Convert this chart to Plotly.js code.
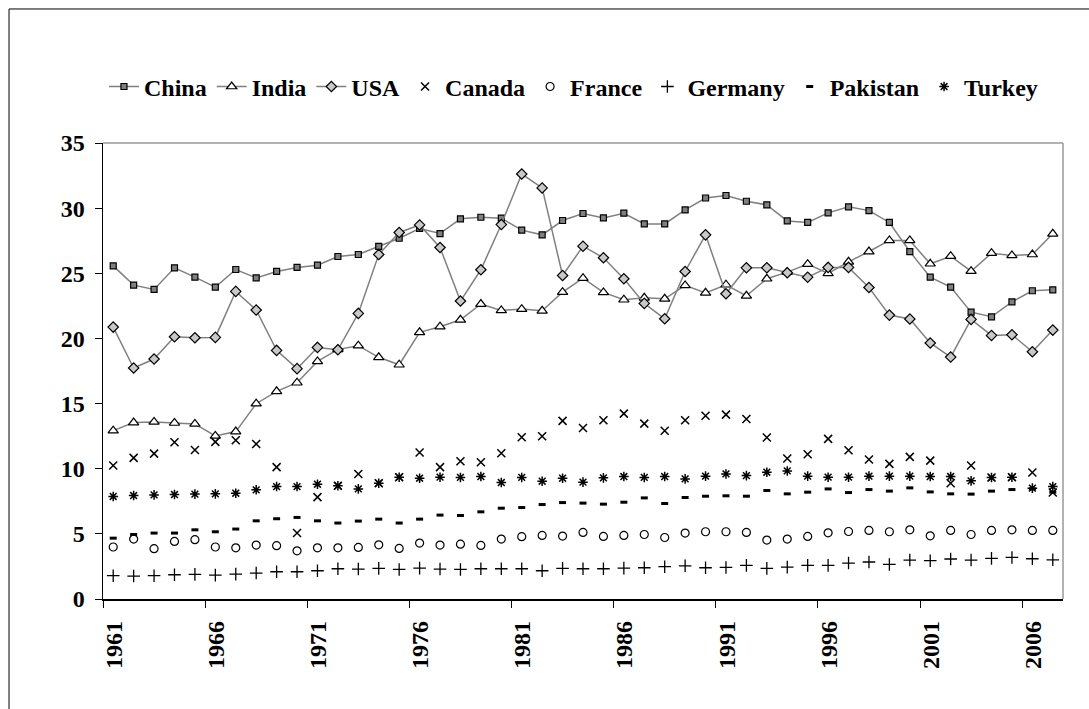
<!DOCTYPE html>
<html>
<head>
<meta charset="utf-8">
<script src="https://cdn.plot.ly/plotly-3.0.1.min.js"></script>
<style>html,body{margin:0;padding:0;background:#fff;}#chart{width:1089px;height:709px;}</style>
</head>
<body>
<div id="chart"></div>
<script>
const years = [1961,1962,1963,1964,1965,1966,1967,1968,1969,1970,1971,1972,1973,1974,1975,1976,1977,1978,1979,1980,1981,1982,1983,1984,1985,1986,1987,1988,1989,1990,1991,1992,1993,1994,1995,1996,1997,1998,1999,2000,2001,2002,2003,2004,2005,2006,2007];
const tickYears = ['1961','1966','1971','1976','1981','1986','1991','1996','2001','2006'];

const china = [25.57,24.09,23.76,25.42,24.70,23.94,25.29,24.65,25.14,25.45,25.62,26.29,26.44,27.06,27.69,28.44,28.05,29.18,29.30,29.23,28.31,27.95,29.05,29.59,29.25,29.61,28.79,28.79,29.86,30.78,30.97,30.53,30.25,29.02,28.90,29.64,30.10,29.81,28.90,26.67,24.70,23.94,22.02,21.66,22.81,23.66,23.73];
const india = [12.92,13.54,13.59,13.51,13.44,12.52,12.85,14.99,15.94,16.60,18.24,19.16,19.44,18.55,17.98,20.47,20.90,21.43,22.64,22.15,22.25,22.12,23.55,24.63,23.53,22.97,23.12,23.04,24.07,23.50,24.12,23.27,24.58,25.09,25.70,24.99,25.88,26.67,27.52,27.52,25.73,26.31,25.16,26.54,26.37,26.44,28.03];
const usa = [20.87,17.73,18.42,20.13,20.05,20.08,23.61,22.18,19.08,17.68,19.31,19.13,21.92,26.44,28.13,28.71,26.98,22.87,25.27,28.74,32.62,31.55,24.83,27.08,26.19,24.58,22.69,21.51,25.14,27.95,23.43,25.42,25.42,25.04,24.70,25.45,25.45,23.91,21.79,21.49,19.65,18.57,21.46,20.23,20.28,18.98,20.64];
const canada = [10.24,10.83,11.16,12.03,11.44,12.06,12.19,11.90,10.12,5.06,7.82,8.69,9.60,8.89,9.35,11.24,10.12,10.58,10.50,11.19,12.42,12.49,13.67,13.13,13.72,14.23,13.46,12.92,13.72,14.07,14.15,13.82,12.39,10.78,11.11,12.29,11.42,10.70,10.37,10.91,10.62,8.89,10.24,9.32,9.35,9.71,8.17];
const france = [3.99,4.60,3.86,4.42,4.55,3.99,3.93,4.14,4.09,3.70,3.93,3.93,3.96,4.16,3.88,4.29,4.14,4.21,4.11,4.60,4.78,4.88,4.83,5.11,4.80,4.88,4.95,4.72,5.06,5.16,5.16,5.11,4.52,4.60,4.80,5.08,5.18,5.26,5.16,5.31,4.85,5.26,4.95,5.26,5.31,5.26,5.26];
const germany = [1.79,1.76,1.79,1.86,1.89,1.83,1.91,1.99,2.09,2.09,2.17,2.32,2.30,2.35,2.27,2.37,2.30,2.27,2.32,2.32,2.32,2.17,2.35,2.32,2.32,2.37,2.40,2.48,2.55,2.40,2.42,2.58,2.35,2.45,2.58,2.58,2.76,2.84,2.65,2.99,2.94,3.07,2.99,3.12,3.19,3.09,3.01];
const pakistan = [4.67,4.95,5.06,5.06,5.31,5.16,5.37,6.00,6.16,6.26,6.00,5.83,5.98,6.13,5.83,6.13,6.44,6.41,6.69,6.97,7.02,7.25,7.40,7.36,7.28,7.43,7.76,7.33,7.79,7.89,7.92,7.89,8.33,8.07,8.20,8.45,8.17,8.40,8.28,8.53,8.22,8.07,8.05,8.28,8.40,8.45,8.20];
const turkey = [7.87,7.94,7.99,8.02,8.05,8.07,8.12,8.38,8.63,8.63,8.81,8.69,8.45,8.89,9.35,9.27,9.35,9.33,9.40,8.94,9.33,9.04,9.27,8.97,9.30,9.40,9.33,9.40,9.22,9.43,9.60,9.47,9.73,9.83,9.43,9.35,9.35,9.43,9.43,9.43,9.40,9.40,9.07,9.32,9.35,8.51,8.63];

const FONT = 'Liberation Serif';
const FS = 24;
const lineCol = '#808080';

function lineTrace(name, y, symbol, size, fill) {
  return {x: years, y: y, name: name, type: 'scatter', mode: 'lines+markers',
    line: {color: lineCol, width: 1.5},
    marker: {symbol: symbol, size: size, color: fill, line: {color: '#000', width: 1.2}}};
}
function markTrace(name, y, symbol, size, width) {
  return {x: years, y: y, name: name, type: 'scatter', mode: 'markers',
    marker: {symbol: symbol, size: size, color: '#000', line: {color: '#000', width: width}}};
}

const traces = [
  lineTrace('China', china, 'square', 6, '#808080'),
  lineTrace('India', india, 'triangle-up', 9, '#ffffff'),
  lineTrace('USA', usa, 'diamond', 8, '#c8c8c8'),
  markTrace('Canada', canada, 'x-thin-open', 8, 1.5),
  markTrace('France', france, 'circle-open', 8, 1.2),
  markTrace('Germany', germany, 'cross-thin-open', 9, 1.3),
  markTrace('Pakistan', pakistan, 'line-ew-open', 5, 3),
  markTrace('Turkey', turkey, 'asterisk-open', 8, 1.5)
];

const tickPos = tickYears.map(t => Number(t) - 0.5);

const layout = {
  width: 1089, height: 709,
  margin: {l: 103, r: 26, t: 143, b: 110},
  paper_bgcolor: '#fff', plot_bgcolor: '#fff',
  font: {family: FONT, size: FS, color: '#000', weight: 'bold'},
  showlegend: true,
  legend: {orientation: 'h', x: 0.001, xanchor: 'left', y: 1.123, yanchor: 'middle',
    font: {family: FONT, size: FS, color: '#000', weight: 'bold'}, itemwidth: 30,
    traceorder: 'normal', tracegroupgap: 0},
  xaxis: {range: [1960.5, 2007.5], tickmode: 'array', tickvals: tickPos, ticktext: tickYears,
    tickangle: -90, ticks: 'outside', ticklen: 7, tickcolor: '#000', tickwidth: 1,
    ticklabelshift: 11, ticklabelstandoff: 4, showline: true, linecolor: '#000', linewidth: 1.5,
    showgrid: false, zeroline: false,
    tickfont: {family: FONT, size: FS, color: '#000', weight: 'bold'}},
  yaxis: {range: [0, 35], tickmode: 'array', tickvals: [0,5,10,15,20,25,30,35],
    ticks: 'outside', ticklen: 7, tickcolor: '#000', tickwidth: 1, ticklabelstandoff: 5,
    showline: true, linecolor: '#000', linewidth: 1.5, showgrid: false, zeroline: false,
    tickfont: {family: FONT, size: FS, color: '#000', weight: 'bold'}},
  shapes: [
    {type: 'line', xref: 'paper', yref: 'paper', x0: 0, x1: 1, y0: 1, y1: 1, line: {color: '#999', width: 1.5}},
    {type: 'line', xref: 'paper', yref: 'paper', x0: 1, x1: 1, y0: 0, y1: 1, line: {color: '#999', width: 1.5}},
    {type: 'rect', xref: 'paper', yref: 'paper', x0: -0.0979, x1: 1.1, y0: -0.4, y1: 1.2939, line: {color: '#000', width: 1}}
  ]
};

Plotly.newPlot('chart', traces, layout, {displayModeBar: false, staticPlot: true});
</script>
</body>
</html>
